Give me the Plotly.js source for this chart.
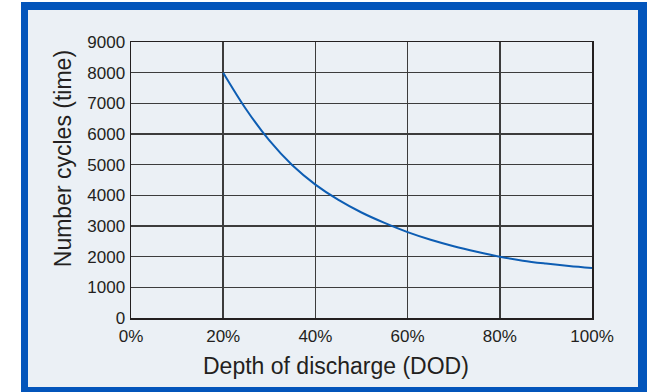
<!DOCTYPE html>
<html>
<head>
<meta charset="utf-8">
<script src="https://cdn.plot.ly/plotly-3.0.1.min.js"></script>
<style>
html,body{margin:0;padding:0;background:#ffffff;width:647px;height:392px;overflow:hidden;}
#frame{position:absolute;left:21px;top:2px;width:626px;height:390px;background:#0355bb;}
#inner{position:absolute;left:28px;top:10px;width:610px;height:377px;background:#ebf0f5;}
#chart{position:absolute;left:0;top:0;width:647px;height:392px;}
</style>
</head>
<body>
<div id="frame"></div>
<div id="inner"></div>
<div id="chart"></div>
<script>
// Depth of discharge (%) vs number of cycles
const dod = [20, 25, 30, 35, 40, 45, 50, 55, 60, 65, 70, 75, 80, 85, 90, 95, 100];
const cycles = [8000, 6800, 5790, 4980, 4350, 3850, 3440, 3100, 2800, 2550, 2340, 2160, 2000, 1870, 1775, 1695, 1630];
const xTickVals = [0, 20, 40, 60, 80, 100];
const xTickText = ['0%', '20%', '40%', '60%', '80%', '100%'];
const yTickVals = [0, 1000, 2000, 3000, 4000, 5000, 6000, 7000, 8000, 9000];
const xTitle = 'Depth of discharge (DOD)';
const yTitle = 'Number cycles (time)';

const font = 'Liberation Sans, Arial, sans-serif';
const txt = '#231f20';
const grid = '#3c3c3c';

const trace = {
  x: dod, y: cycles, type: 'scatter', mode: 'lines',
  line: {color: '#0d5db3', width: 2, shape: 'spline', smoothing: 1},
  hoverinfo: 'skip'
};

const layout = {
  width: 647, height: 392,
  margin: {l: 130.7, r: 54.7, t: 41.7, b: 74.3},
  paper_bgcolor: 'rgba(0,0,0,0)',
  plot_bgcolor: 'rgba(0,0,0,0)',
  showlegend: false,
  xaxis: {
    range: [0, 100], tickvals: xTickVals, ticktext: xTickText,
    showgrid: true, gridcolor: grid, gridwidth: 1.5,
    zeroline: false, showline: true, linecolor: '#231f20', linewidth: 1.5, mirror: true,
    ticks: '', ticklabelstandoff: 2,
    tickfont: {family: font, size: 17, color: txt}
  },
  yaxis: {
    range: [0, 9000], tickvals: yTickVals,
    showgrid: true, gridcolor: grid, gridwidth: 1.5,
    zeroline: false, showline: true, linecolor: '#231f20', linewidth: 1.5, mirror: true,
    ticks: '', ticklabelstandoff: 1,
    tickfont: {family: font, size: 17, color: txt}
  },
  annotations: [
    {text: xTitle, xref: 'paper', yref: 'paper', x: (335.5 - 130.7) / 461.6, y: (317.7 - 366) / 276,
     xanchor: 'center', yanchor: 'middle', showarrow: false,
     font: {family: font, size: 23, color: txt}},
    {text: yTitle, xref: 'paper', yref: 'paper', x: (62 - 130.7) / 461.6, y: (317.7 - 158.5) / 276,
     xanchor: 'center', yanchor: 'middle', showarrow: false, textangle: -90,
     font: {family: font, size: 23, color: txt}}
  ]
};

Plotly.newPlot('chart', [trace], layout, {displayModeBar: false, staticPlot: true});
</script>
</body>
</html>
